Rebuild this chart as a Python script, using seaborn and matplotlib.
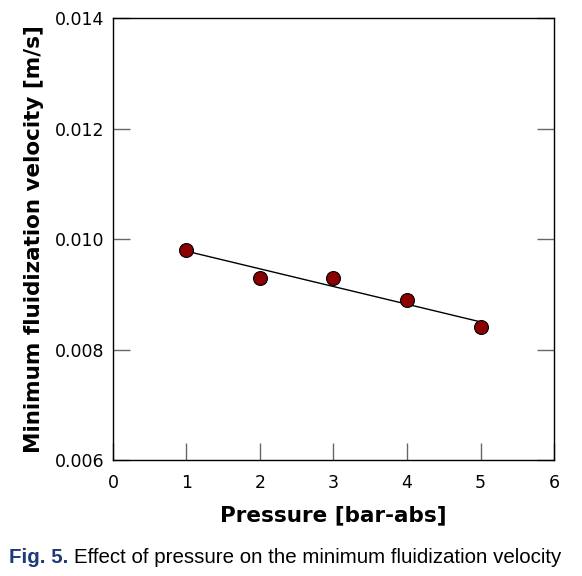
import numpy as np
import pandas as pd
import matplotlib
matplotlib.use("Agg")
import matplotlib.pyplot as plt
import seaborn as sns

# Data
pressure = [1, 2, 3, 4, 5]
umf = [0.0098, 0.0093, 0.0093, 0.0089, 0.0084]
x_ticks = [0, 1, 2, 3, 4, 5, 6]
y_ticks = [0.006, 0.008, 0.010, 0.012, 0.014]

df = pd.DataFrame({"Pressure": pressure, "Umf": umf})

sns.set_theme(style="white")
plt.rcParams["font.family"] = ["DejaVu Sans"]
plt.rcParams["text.color"] = "black"
plt.rcParams["axes.labelcolor"] = "black"
plt.rcParams["xtick.color"] = "black"
plt.rcParams["ytick.color"] = "black"

fig = plt.figure(figsize=(5.82, 5.76), dpi=100)
ax = fig.add_axes([0.194, 0.2014, 0.758, 0.7673])

sns.regplot(data=df, x="Pressure", y="Umf", ci=None, ax=ax,
            scatter_kws=dict(s=100, color="#8B0000", edgecolor="black",
                             linewidths=0.8, alpha=1, zorder=3),
            line_kws=dict(color="black", lw=1, zorder=2))

ax.set_xlim(0, 6)
ax.set_ylim(0.006, 0.014)
ax.set_xticks(x_ticks)
ax.set_yticks(y_ticks)
ax.set_yticklabels([f"{v:.3f}" for v in y_ticks])
ax.tick_params(direction="in", length=12, width=1, color="#666666",
               labelcolor="black", labelsize=12.5,
               right=True, left=True, bottom=True, top=False)
ax.tick_params(axis="x", pad=10)
ax.tick_params(axis="y", pad=6)
for s in ax.spines.values():
    s.set_color("black")
    s.set_linewidth(1)

ax.set_xlabel("Pressure [bar-abs]", fontsize=15.5, fontweight="bold", labelpad=10)
ax.set_ylabel("Minimum fluidization velocity [m/s]", fontsize=15.5,
              fontweight="bold", labelpad=8)

fig.text(0.016, 0.022, "Fig. 5.", fontsize=14.8, color="#1F3A7A",
         fontweight="bold", family="Liberation Sans")
fig.text(0.128, 0.022, "Effect of pressure on the minimum fluidization velocity",
         fontsize=14.8, color="black", family="Liberation Sans")

fig.savefig("out.png", dpi=100)
